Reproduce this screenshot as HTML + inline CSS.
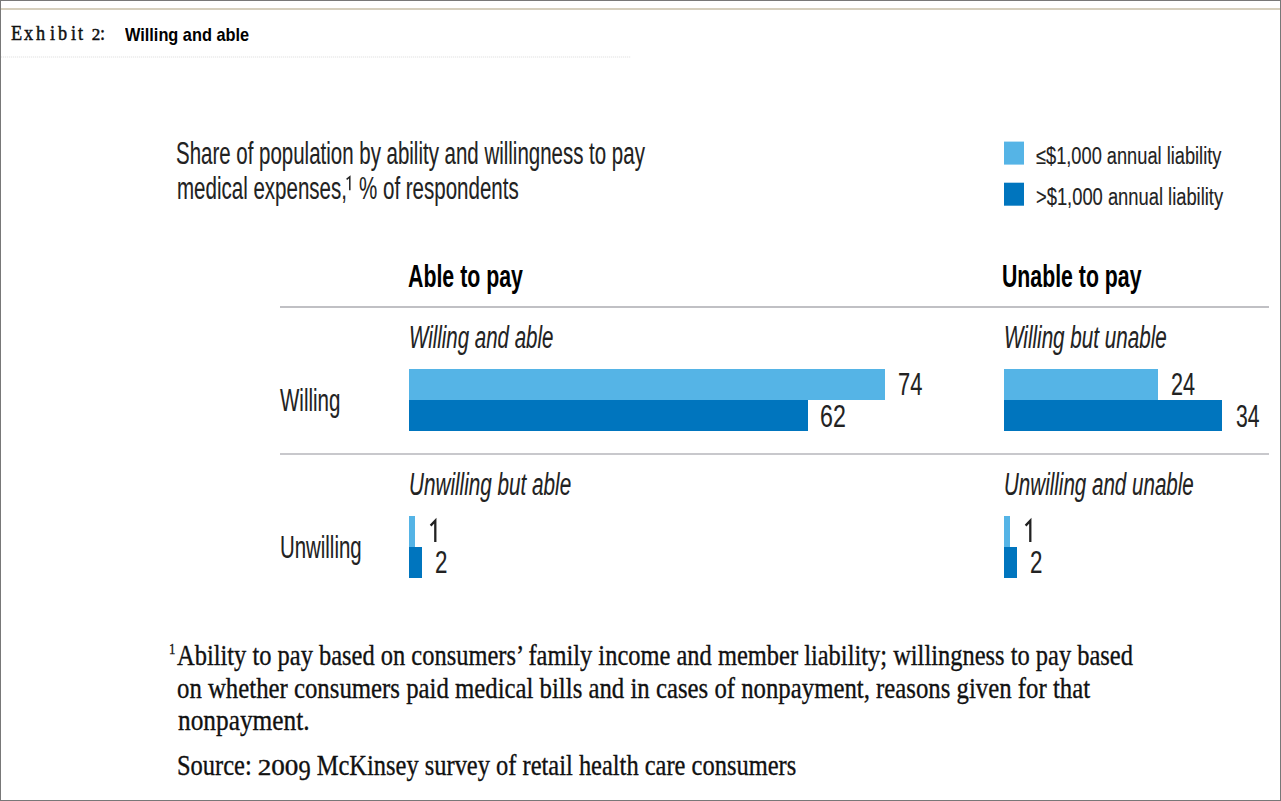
<!DOCTYPE html>
<html><head><meta charset="utf-8"><style>
html,body{margin:0;padding:0;background:#fff;}
body{width:1281px;height:801px;position:relative;overflow:hidden;font-family:"Liberation Sans", sans-serif;}
.b{position:absolute;}
.t{position:absolute;white-space:nowrap;line-height:1;transform-origin:0 0;}
.t sup{color:transparent;-webkit-text-stroke:0 !important;font-size:62%;vertical-align:0;position:relative;top:-9.5px;margin-left:0px;margin-right:-1px;}
.fsup{font-size:52%;position:relative;top:-0.66em;margin-right:2px;}
.os{font-size:74%;display:inline-block;transform:scaleX(1.5);transform-origin:0 0;margin-right:16.5px;}
.os9{position:relative;top:5px;}
.bm{display:inline-block;width:0;height:0;vertical-align:baseline;}
</style></head><body>
<!-- frame -->
<div class="b" style="left:0;top:0;width:1281px;height:1px;background:#787878"></div>
<div class="b" style="left:0;top:0;width:1px;height:801px;background:#787878"></div>
<div class="b" style="left:1280px;top:0;width:1px;height:801px;background:#787878"></div>
<div class="b" style="left:0;top:800px;width:1281px;height:1px;background:#787878"></div>
<div class="b" style="left:1px;top:8px;width:1279px;height:2px;background:#d6cfbd"></div>
<div class="b" style="left:1px;top:56px;width:630px;height:2px;background:repeating-linear-gradient(90deg,#f0f0f0 0 1px,#fcfcfc 1px 2px)"></div>
<!-- legend squares -->
<div class="b" style="left:1004px;top:142px;width:20px;height:23px;background:#55b4e6;transform:translateY(-0.4px)"></div>
<div class="b" style="left:1004px;top:183px;width:20px;height:23px;background:#0075be;transform:translateY(-0.3px)"></div>
<!-- rules -->
<div class="b" style="left:280px;top:306px;width:989px;height:2px;background:#c0c0c4"></div>
<div class="b" style="left:280px;top:453px;width:989px;height:2px;background:#c8c8cc"></div>
<!-- bars -->
<div class="b" style="left:409px;top:369px;width:476px;height:31px;background:#55b4e6"></div>
<div class="b" style="left:409px;top:400px;width:399px;height:31px;background:#0075be"></div>
<div class="b" style="left:1004px;top:369px;width:154px;height:31px;background:#55b4e6"></div>
<div class="b" style="left:1004px;top:400px;width:218px;height:31px;background:#0075be"></div>
<div class="b" style="left:409px;top:516px;width:6px;height:31px;background:#55b4e6"></div>
<div class="b" style="left:409px;top:547px;width:13px;height:31px;background:#0075be"></div>
<div class="b" style="left:1004px;top:516px;width:6px;height:31px;background:#55b4e6"></div>
<div class="b" style="left:1004px;top:547px;width:13px;height:31px;background:#0075be"></div>
<svg class="b" style="left:0;top:0" width="1281" height="801" viewBox="0 0 1281 801">
<g fill="none" stroke="#222" stroke-width="2.3" stroke-linejoin="miter" stroke-linecap="butt">
<path d="M430.6 525.6 L435.3 520.6 L435.3 542"/>
<path d="M1025.6 525.6 L1030.3 520.6 L1030.3 542"/>
</g>
<path d="M346.6 179.4 L349.8 176.8 L349.8 190.2" fill="none" stroke="#222" stroke-width="1.5"/>
</svg>
<div class="t" style="left:10.90px;top:22.20px;font-family:'Liberation Serif', serif;font-weight:400;font-style:normal;font-size:22px;color:#111;transform:scaleX(0.8300);-webkit-text-stroke:0.5px #111;">E</div>
<div class="t" style="left:24.40px;top:22.20px;font-family:'Liberation Serif', serif;font-weight:400;font-style:normal;font-size:22px;color:#111;transform:scaleX(0.8300);-webkit-text-stroke:0.5px #111;">x</div>
<div class="t" style="left:36.10px;top:22.20px;font-family:'Liberation Serif', serif;font-weight:400;font-style:normal;font-size:22px;color:#111;transform:scaleX(0.8300);-webkit-text-stroke:0.5px #111;">h</div>
<div class="t" style="left:49.80px;top:22.20px;font-family:'Liberation Serif', serif;font-weight:400;font-style:normal;font-size:22px;color:#111;transform:scaleX(0.8300);-webkit-text-stroke:0.5px #111;">i</div>
<div class="t" style="left:57.80px;top:22.20px;font-family:'Liberation Serif', serif;font-weight:400;font-style:normal;font-size:22px;color:#111;transform:scaleX(0.8300);-webkit-text-stroke:0.5px #111;">b</div>
<div class="t" style="left:71.00px;top:22.20px;font-family:'Liberation Serif', serif;font-weight:400;font-style:normal;font-size:22px;color:#111;transform:scaleX(0.8300);-webkit-text-stroke:0.5px #111;">i</div>
<div class="t" style="left:78.30px;top:22.20px;font-family:'Liberation Serif', serif;font-weight:400;font-style:normal;font-size:22px;color:#111;transform:scaleX(0.8300);-webkit-text-stroke:0.5px #111;">t</div>
<div class="t" style="left:91.70px;top:26.20px;font-family:'Liberation Serif', serif;font-weight:400;font-style:normal;font-size:17px;color:#111;transform:scaleX(1.0000);-webkit-text-stroke:0.5px #111;">2</div>
<div class="t" style="left:100.47px;top:22.20px;font-family:'Liberation Serif', serif;font-weight:400;font-style:normal;font-size:22px;color:#111;transform:scaleX(0.8300);-webkit-text-stroke:0.5px #111;">:</div>
<div class="t" style="left:125.40px;top:26.00px;font-family:'Liberation Sans', sans-serif;font-weight:700;font-style:normal;font-size:18.5px;color:#000;transform:scaleX(0.8821);">Willing and able</div>
<div class="t" style="left:176.46px;top:138.20px;font-family:'Liberation Sans', sans-serif;font-weight:400;font-style:normal;font-size:30.5px;color:#222;transform:scaleX(0.6712);-webkit-text-stroke:0.12px #222;">Share of population by ability and willingness to pay</div>
<div class="t" style="left:176.65px;top:173.20px;font-family:'Liberation Sans', sans-serif;font-weight:400;font-style:normal;font-size:30.5px;color:#222;transform:scaleX(0.6727);-webkit-text-stroke:0.12px #222;">medical expenses,<sup>1</sup> % of respondents</div>
<div class="t" style="left:1036.21px;top:145.00px;font-family:'Liberation Sans', sans-serif;font-weight:400;font-style:normal;font-size:23px;color:#222;transform:scaleX(0.7927);-webkit-text-stroke:0.12px #222;">&le;$1,000 annual liability</div>
<div class="t" style="left:1036.20px;top:186.30px;font-family:'Liberation Sans', sans-serif;font-weight:400;font-style:normal;font-size:23px;color:#222;transform:scaleX(0.7974);-webkit-text-stroke:0.12px #222;">&gt;$1,000 annual liability</div>
<div class="t" style="left:408.30px;top:261.00px;font-family:'Liberation Sans', sans-serif;font-weight:700;font-style:normal;font-size:30.5px;color:#000;transform:scaleX(0.6994);">Able to pay</div>
<div class="t" style="left:1002.41px;top:261.00px;font-family:'Liberation Sans', sans-serif;font-weight:700;font-style:normal;font-size:30.5px;color:#000;transform:scaleX(0.6975);">Unable to pay</div>
<div class="t" style="left:409.02px;top:321.60px;font-family:'Liberation Sans', sans-serif;font-weight:400;font-style:italic;font-size:31px;color:#222;transform:scaleX(0.6605);-webkit-text-stroke:0.12px #222;">Willing and able</div>
<div class="t" style="left:1004.00px;top:321.60px;font-family:'Liberation Sans', sans-serif;font-weight:400;font-style:italic;font-size:31px;color:#222;transform:scaleX(0.6656);-webkit-text-stroke:0.12px #222;">Willing but unable</div>
<div class="t" style="left:409.17px;top:468.90px;font-family:'Liberation Sans', sans-serif;font-weight:400;font-style:italic;font-size:31px;color:#222;transform:scaleX(0.6675);-webkit-text-stroke:0.12px #222;">Unwilling but able</div>
<div class="t" style="left:1004.37px;top:469.00px;font-family:'Liberation Sans', sans-serif;font-weight:400;font-style:italic;font-size:31px;color:#222;transform:scaleX(0.6633);-webkit-text-stroke:0.12px #222;">Unwilling and unable</div>
<div class="t" style="left:280.30px;top:384.90px;font-family:'Liberation Sans', sans-serif;font-weight:400;font-style:normal;font-size:30.5px;color:#222;transform:scaleX(0.6716);-webkit-text-stroke:0.12px #222;">Willing</div>
<div class="t" style="left:279.56px;top:531.80px;font-family:'Liberation Sans', sans-serif;font-weight:400;font-style:normal;font-size:30.5px;color:#222;transform:scaleX(0.6686);-webkit-text-stroke:0.12px #222;">Unwilling</div>
<div class="t" style="left:897.79px;top:369.00px;font-family:'Liberation Sans', sans-serif;font-weight:400;font-style:normal;font-size:31px;color:#222;transform:scaleX(0.7061);-webkit-text-stroke:0.12px #222;">74</div>
<div class="t" style="left:820.05px;top:400.50px;font-family:'Liberation Sans', sans-serif;font-weight:400;font-style:normal;font-size:31px;color:#222;transform:scaleX(0.7469);-webkit-text-stroke:0.12px #222;">62</div>
<div class="t" style="left:1171.30px;top:369.00px;font-family:'Liberation Sans', sans-serif;font-weight:400;font-style:normal;font-size:31px;color:#222;transform:scaleX(0.6970);-webkit-text-stroke:0.12px #222;">24</div>
<div class="t" style="left:1235.82px;top:400.50px;font-family:'Liberation Sans', sans-serif;font-weight:400;font-style:normal;font-size:31px;color:#222;transform:scaleX(0.6818);-webkit-text-stroke:0.12px #222;">34</div>
<div class="t" style="left:435.28px;top:547.00px;font-family:'Liberation Sans', sans-serif;font-weight:400;font-style:normal;font-size:31px;color:#222;transform:scaleX(0.7200);-webkit-text-stroke:0.12px #222;">2</div>
<div class="t" style="left:1030.28px;top:547.00px;font-family:'Liberation Sans', sans-serif;font-weight:400;font-style:normal;font-size:31px;color:#222;transform:scaleX(0.7200);-webkit-text-stroke:0.12px #222;">2</div>
<div class="t" style="left:168.58px;top:639.50px;font-family:'Liberation Serif', serif;font-weight:400;font-style:normal;font-size:30px;color:#111;transform:scaleX(0.8153);-webkit-text-stroke:0.35px #111;"><span class="fsup">1</span>Ability to pay based on consumers&rsquo; family income and member liability; willingness to pay based</div>
<div class="t" style="left:177.27px;top:672.80px;font-family:'Liberation Serif', serif;font-weight:400;font-style:normal;font-size:30px;color:#111;transform:scaleX(0.8259);-webkit-text-stroke:0.35px #111;">on whether consumers paid medical bills and in cases of nonpayment, reasons given for that</div>
<div class="t" style="left:178.10px;top:704.60px;font-family:'Liberation Serif', serif;font-weight:400;font-style:normal;font-size:30px;color:#111;transform:scaleX(0.8442);-webkit-text-stroke:0.35px #111;">nonpayment.</div>
<div class="t" style="left:176.77px;top:749.90px;font-family:'Liberation Serif', serif;font-weight:400;font-style:normal;font-size:30px;color:#111;transform:scaleX(0.8152);-webkit-text-stroke:0.35px #111;">Source: <span class="os">200</span><span class="os9">9</span> McKinsey survey of retail health care consumers</div>
</body></html>
